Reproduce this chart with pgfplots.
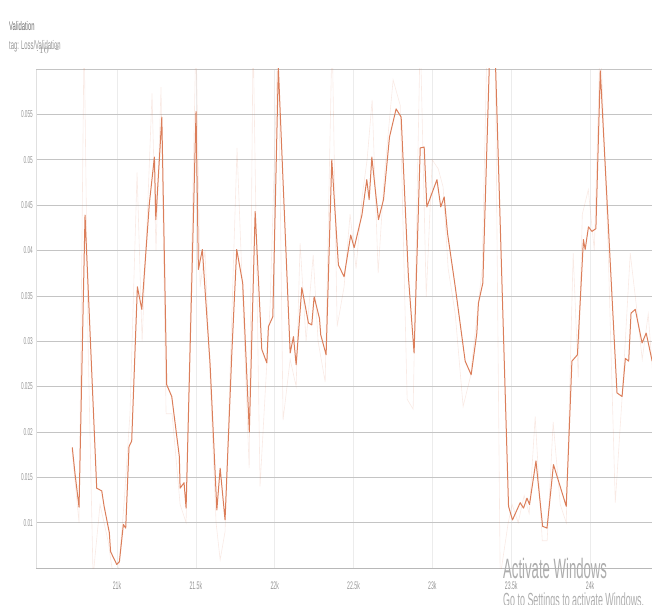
\documentclass[border=0pt]{standalone}
\usepackage{pgfplots}
\pgfplotsset{compat=1.18}
\usepackage{fontspec}
\setmainfont{Liberation Sans}

% condensed text: the face squeezed horizontally
\newcommand\nt[1]{\scalebox{0.47}[1]{#1}}

\definecolor{lossline}{RGB}{219,126,90}
\definecolor{gridy}{RGB}{196,196,196}
\definecolor{gridx}{RGB}{236,236,236}
\definecolor{labelgray}{RGB}{150,150,150}
\definecolor{titlegray}{RGB}{110,110,110}

% smoothed validation loss
\pgfplotstableread{
step loss
20716 0.0183
20734 0.0153
20759 0.0117
20797 0.0439
20871 0.0138
20903 0.0135
20918 0.0118
20951 0.0089
20959 0.0068
20998 0.0054
21015 0.0057
21040 0.0098
21055 0.0094
21076 0.0184
21093 0.0190
21129 0.0360
21157 0.0335
21205 0.0452
21237 0.0503
21246 0.0434
21284 0.0547
21315 0.0252
21347 0.0239
21395 0.0173
21400 0.0138
21425 0.0144
21438 0.0116
21501 0.0553
21516 0.0379
21541 0.0401
21590 0.0275
21633 0.0114
21654 0.0160
21685 0.0103
21728 0.0287
21759 0.0401
21797 0.0364
21839 0.0200
21876 0.0443
21918 0.0291
21950 0.0276
21960 0.0316
21988 0.0327
22023 0.0602
22098 0.0287
22119 0.0305
22136 0.0274
22172 0.0359
22214 0.0320
22235 0.0318
22250 0.0349
22284 0.0325
22292 0.0307
22326 0.0285
22362 0.0500
22404 0.0384
22440 0.0371
22482 0.0417
22504 0.0403
22553 0.0439
22584 0.0478
22599 0.0456
22616 0.0503
22658 0.0434
22690 0.0456
22728 0.0525
22770 0.0556
22802 0.0547
22848 0.0371
22884 0.0287
22923 0.0513
22948 0.0514
22965 0.0448
23029 0.0478
23053 0.0448
23075 0.0459
23096 0.0419
23145 0.0360
23208 0.0278
23246 0.0263
23282 0.0309
23292 0.0342
23320 0.0364
23381 0.0720
23483 0.0118
23508 0.0103
23557 0.0122
23578 0.0116
23600 0.0127
23616 0.0120
23657 0.0168
23699 0.0096
23727 0.0094
23768 0.0164
23849 0.0118
23885 0.0278
23920 0.0285
23958 0.0412
23969 0.0401
23990 0.0426
24012 0.0421
24037 0.0424
24065 0.0598
24171 0.0243
24203 0.0239
24224 0.0281
24245 0.0278
24260 0.0331
24287 0.0335
24330 0.0298
24356 0.0309
24394 0.0278
}\smoothloss

% raw validation loss
\pgfplotstableread{
step loss
20714 0.018
20759 0.010
20791 0.064
20816 0.030
20848 0.004
20892 0.012
20943 0.008
20968 0.005
21006 0.004
21044 0.012
21082 0.022
21127 0.0486
21159 0.030
21197 0.046
21222 0.0573
21247 0.040
21279 0.058
21311 0.022
21349 0.022
21400 0.012
21438 0.010
21501 0.064
21527 0.036
21558 0.040
21590 0.026
21628 0.010
21654 0.0059
21685 0.009
21723 0.030
21761 0.0513
21799 0.034
21838 0.016
21863 0.064
21907 0.014
21945 0.026
21971 0.034
22022 0.064
22053 0.0213
22098 0.028
22136 0.025
22161 0.0408
22199 0.030
22244 0.0395
22275 0.030
22320 0.0255
22364 0.064
22396 0.0316
22440 0.036
22478 0.044
22516 0.038
22555 0.046
22586 0.050
22618 0.0566
22656 0.0375
22694 0.048
22751 0.0588
22796 0.056
22840 0.0236
22878 0.0225
22923 0.064
22961 0.0349
22999 0.050
23037 0.049
23068 0.047
23100 0.038
23145 0.033
23195 0.0228
23240 0.026
23278 0.032
23316 0.038
23348 0.064
23398 0.064
23430 0.004
23481 0.010
23506 0.012
23544 0.010
23582 0.013
23614 0.011
23652 0.0217
23697 0.008
23728 0.008
23766 0.0211
23811 0.012
23849 0.010
23893 0.0397
23925 0.026
23951 0.044
23989 0.0467
24027 0.040
24065 0.064
24115 0.040
24160 0.0122
24204 0.024
24255 0.0397
24293 0.034
24331 0.028
24369 0.033
24395 0.027
}\rawloss

\begin{document}
\begin{tikzpicture}
\useasboundingbox (0,0) rectangle (652pt,-604pt);
\begin{scope}
\clip (0,0) rectangle (652pt,-604pt);

\node[anchor=west, inner sep=0pt, text=titlegray,
      font=\fontsize{12.5}{13}\selectfont] at (9pt,-26pt) {\nt{Validation}};
\node[anchor=west, inner sep=0pt, text=labelgray,
      font=\fontsize{12.5}{13}\selectfont] at (9pt,-46pt) {\nt{tag: Loss/Validation}};

\begin{axis}[
  at={(36pt,-568pt)}, anchor=south west,
  scale only axis, width=616pt, height=499pt,
  xmin=20486, xmax=24393, ymin=0.005, ymax=0.06,
  axis x line*=bottom, axis y line*=left,
  axis line style={-},
  x axis line style={draw=black!28, line width=0.9pt},
  y axis line style={draw=black!12, line width=0.6pt},
  major tick length=0pt,
  xtick={21000,21500,22000,22500,23000,23500,24000},
  xticklabels={\nt{21k},\nt{21.5k},\nt{22k},\nt{22.5k},\nt{23k},\nt{23.5k},\nt{24k}},
  ytick={0.01,0.015,0.02,0.025,0.03,0.035,0.04,0.045,0.05,0.055},
  yticklabels={\nt{0.01},\nt{0.015},\nt{0.02},\nt{0.025},\nt{0.03},
               \nt{0.035},\nt{0.04},\nt{0.045},\nt{0.05},\nt{0.055}},
  extra y ticks={0.06}, extra y tick labels={},
  extra y tick style={grid style={draw=black!12, line width=0.6pt}},
  xmajorgrids, ymajorgrids,
  y grid style={draw=gridy, line width=0.6pt},
  x grid style={draw=gridx, line width=0.5pt},
  yticklabel style={font=\fontsize{10}{10}\selectfont, text=labelgray,
                    anchor=east, inner sep=0pt, xshift=-3pt},
  xticklabel style={font=\fontsize{11}{11}\selectfont, text=labelgray,
                    anchor=north, inner sep=0pt, yshift=-13pt},
]
\addplot[lossline, opacity=0.16, line width=0.6pt] table[x=step, y=loss] {\rawloss};
\addplot[lossline, line width=1.0pt, line join=round] table[x=step, y=loss] {\smoothloss};
\end{axis}

\node[anchor=west, inner sep=0pt, text=black!32,
      font=\fontsize{28}{28}\selectfont] at (503pt,-568pt) {\nt{Activate Windows}};
\node[anchor=west, inner sep=0pt, text=black!32,
      font=\fontsize{19}{19}\selectfont] at (503pt,-602pt) {\nt{Go to Settings to activate Windows.}};
\end{scope}
\end{tikzpicture}
\end{document}
